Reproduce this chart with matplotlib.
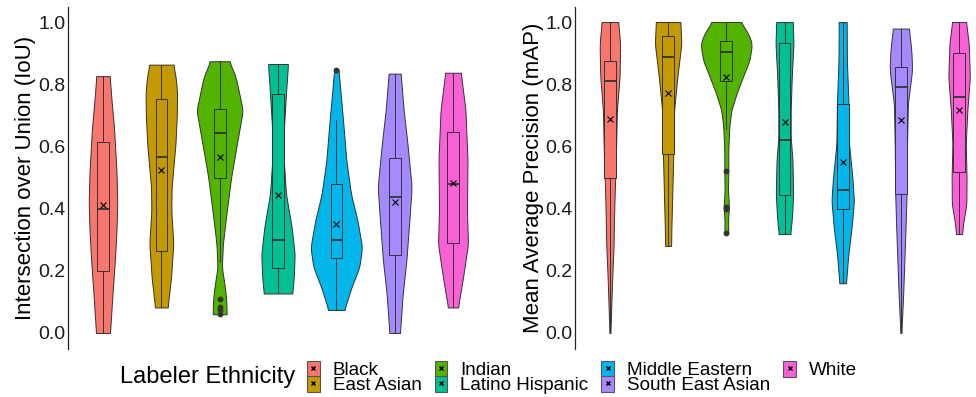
import numpy as np
import matplotlib
matplotlib.use("Agg")
import matplotlib.pyplot as plt
from matplotlib.patches import Rectangle
from matplotlib.lines import Line2D

plt.rcParams['font.family'] = ['Liberation Sans', 'DejaVu Sans']

groups = ['Black', 'East Asian', 'Indian', 'Latino Hispanic',
          'Middle Eastern', 'South East Asian', 'White']
colors = ['#F8766D', '#C49A00', '#53B400', '#00C094', '#00B6EB', '#A58AFF', '#FB61D7']

# violin outlines: value levels and relative density (half width)
iou_levels = [
    [0, 0.05, 0.125, 0.23, 0.33, 0.42, 0.52, 0.66, 0.75, 0.826],
    [0.082, 0.178, 0.287, 0.394, 0.469, 0.61, 0.70, 0.77, 0.82, 0.863],
    [0.06, 0.103, 0.146, 0.211, 0.286, 0.394, 0.501, 0.609, 0.716, 0.824, 0.874],
    [0.127, 0.178, 0.254, 0.34, 0.447, 0.555, 0.662, 0.77, 0.865],
    [0.074, 0.146, 0.211, 0.275, 0.361, 0.447, 0.555, 0.662, 0.77, 0.847],
    [0, 0.125, 0.232, 0.361, 0.469, 0.609, 0.716, 0.834],
    [0.082, 0.178, 0.286, 0.394, 0.555, 0.716, 0.837],
]
iou_density = [
    [7, 8, 9.5, 11.8, 13.5, 14.3, 13.5, 11, 8.5, 6.7],
    [6.3, 9.7, 12, 10, 10.3, 14.2, 15.5, 15.8, 14.5, 12],
    [7, 6.7, 5.3, 2.2, 3.2, 7.2, 11.5, 17.3, 23.2, 16, 9.5],
    [14.2, 15.8, 16.7, 13.7, 8, 5.8, 6, 8, 10],
    [8, 15, 23, 25.8, 21.2, 14.7, 10, 7.3, 4.3, 2.2],
    [5.3, 8, 11.7, 14.7, 17, 12.8, 9, 6],
    [5, 10, 15, 14, 14.5, 12.5, 7.8],
]
iou_whislo = [0, 0.082, 0.227, 0.127, 0.074, 0, 0.082]
iou_q1 = [0.20, 0.264, 0.497, 0.21, 0.24, 0.252, 0.29]
iou_med = [0.399, 0.565, 0.642, 0.30, 0.299, 0.437, 0.478]
iou_q3 = [0.614, 0.752, 0.72, 0.768, 0.479, 0.563, 0.646]
iou_whishi = [0.826, 0.863, 0.874, 0.865, 0.686, 0.834, 0.837]
iou_mean = [0.41, 0.525, 0.566, 0.443, 0.352, 0.421, 0.481]
iou_outliers = [[], [], [0.109, 0.082, 0.075, 0.06], [], [0.845], [], []]

map_levels = [
    [0, 0.071, 0.178, 0.286, 0.394, 0.5, 0.609, 0.716, 0.824, 0.93, 1.0],
    [0.28, 0.34, 0.447, 0.577, 0.716, 0.824, 0.93, 1.0],
    [0.32, 0.361, 0.404, 0.458, 0.523, 0.587, 0.662, 0.716, 0.77, 0.824, 0.877, 0.93, 0.963, 1.0],
    [0.318, 0.372, 0.447, 0.555, 0.63, 0.716, 0.824, 0.93, 1.0],
    [0.16, 0.254, 0.34, 0.426, 0.501, 0.609, 0.738, 0.877, 1.0],
    [0, 0.125, 0.232, 0.34, 0.447, 0.609, 0.738, 0.845, 0.91, 0.979],
    [0.318, 0.35, 0.415, 0.5, 0.609, 0.716, 0.824, 0.93, 1.0],
]
map_density = [
    [0.5, 1.2, 2.3, 3.7, 4.3, 5.3, 6.3, 7, 9.7, 10.3, 8.3],
    [3, 3.3, 4.2, 5.2, 6, 9.3, 13.3, 12.3],
    [2, 1.7, 2.7, 1.7, 2, 2, 3, 5, 10.3, 16.7, 23.3, 25.8, 22, 14.5],
    [5.8, 7.5, 8.7, 8, 6.2, 6.2, 7.3, 9, 8.3],
    [3.3, 5.7, 9, 11.3, 9.7, 6.3, 5.8, 4.2, 4],
    [0.5, 2.3, 3.5, 4.7, 5.7, 6.2, 7, 11.3, 10.5, 8],
    [3, 4, 7.3, 7.5, 6.7, 8.3, 10.8, 9.7, 7],
]
map_whislo = [0, 0.28, 0.657, 0.318, 0.16, 0, 0.318]
map_q1 = [0.499, 0.576, 0.811, 0.445, 0.399, 0.447, 0.518]
map_med = [0.81, 0.886, 0.904, 0.621, 0.46, 0.79, 0.759]
map_q3 = [0.875, 0.956, 0.94, 0.934, 0.737, 0.856, 0.899]
map_whishi = [1, 1, 1, 1, 1, 0.979, 1]
map_mean = [0.687, 0.771, 0.824, 0.678, 0.55, 0.686, 0.716]
map_outliers = [[], [], [0.52, 0.404, 0.398, 0.32], [], [], [], []]

DENS_SCALE = 1 / 58.4
EDGE = '#333333'


def smooth_outline(levels, dens):
    y = np.linspace(levels[0], levels[-1], 200)
    w = np.interp(y, levels, dens)
    k = 9
    pad = np.pad(w, k // 2, mode='edge')
    w = np.convolve(pad, np.ones(k) / k, mode='valid')
    return y, w * DENS_SCALE


def draw_panel(ax, levels, dens, whislo, q1, med, q3, whishi, mean, outliers, ylabel, labelx):
    for i in range(len(groups)):
        y, w = smooth_outline(levels[i], dens[i])
        ax.fill_betweenx(y, i + 1 - w, i + 1 + w, facecolor=colors[i],
                         edgecolor=EDGE, linewidth=0.7, zorder=1)
    stats = []
    for i in range(len(groups)):
        stats.append({'whislo': whislo[i], 'q1': q1[i], 'med': med[i], 'q3': q3[i],
                      'whishi': whishi[i], 'mean': mean[i], 'fliers': outliers[i]})
    bp = ax.bxp(stats, positions=range(1, len(groups) + 1), widths=0.2,
                patch_artist=True, showmeans=True, showcaps=False,
                boxprops=dict(edgecolor=EDGE, linewidth=0.7),
                whiskerprops=dict(color=EDGE, linewidth=0.7),
                medianprops=dict(color=EDGE, linewidth=1.3),
                meanprops=dict(marker='x', markeredgecolor='black', markersize=4,
                               markeredgewidth=0.8),
                flierprops=dict(marker='o', markerfacecolor=EDGE, markeredgecolor=EDGE,
                                markersize=3.2),
                zorder=2)
    for patch, c in zip(bp['boxes'], colors):
        patch.set_facecolor(c)
    ax.set_xlim(0.4, 7.6)
    ax.set_ylim(-0.05, 1.05)
    ax.set_xticks([])
    ax.set_yticks([0, 0.2, 0.4, 0.6, 0.8, 1.0])
    ax.set_yticklabels(['0.0', '0.2', '0.4', '0.6', '0.8', '1.0'])
    ax.tick_params(axis='y', length=0, pad=2, labelsize=14, labelcolor='#1a1a1a')
    for s in ['top', 'right', 'bottom']:
        ax.spines[s].set_visible(False)
    ax.spines['left'].set_color('#222222')
    ax.spines['left'].set_linewidth(0.9)
    ax.set_ylabel(ylabel, fontsize=16)
    ax.yaxis.set_label_coords(labelx, 0.5)


fig = plt.figure(figsize=(9.76, 3.97), dpi=100)
bottom = 1 - 348.5 / 397
height = 342 / 397
ax1 = fig.add_axes([68 / 976, bottom, 420 / 976, height])
ax2 = fig.add_axes([575 / 976, bottom, 419 / 976, height])

draw_panel(ax1, iou_levels, iou_density, iou_whislo, iou_q1, iou_med, iou_q3,
           iou_whishi, iou_mean, iou_outliers, 'Intersection over Union (IoU)', -0.077)
draw_panel(ax2, map_levels, map_density, map_whislo, map_q1, map_med, map_q3,
           map_whishi, map_mean, map_outliers, 'Mean Average Precision (mAP)', -0.074)

handles = []
for c in colors:
    handles.append((Rectangle((0, 0), 1, 1, facecolor=c, edgecolor='#555555', linewidth=0.8),
                    Line2D([], [], marker='x', color='black', markersize=3.5, linestyle='')))
fig.text(120 / 976, 1 - 377 / 397, 'Labeler Ethnicity', fontsize=17, va='center', ha='left')
fig.legend(handles, groups, ncol=4, loc='center left',
           bbox_to_anchor=(307 / 976, 1 - 377.5 / 397), frameon=False, fontsize=13.6,
           handlelength=0.67, handleheight=0.93, handletextpad=0.7, labelspacing=-0.17,
           columnspacing=0.68, borderpad=0, borderaxespad=0)

fig.savefig('out.png', dpi=100)
